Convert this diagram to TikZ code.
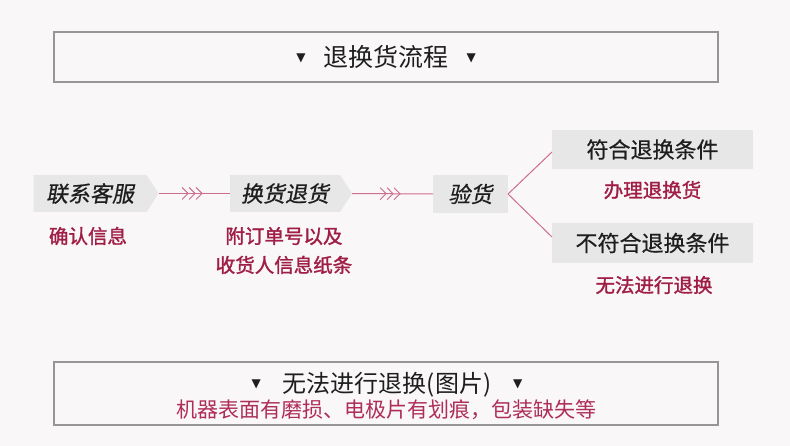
\documentclass[tikz,border=0pt]{standalone}
\usepackage{fontspec}
\setmainfont{Noto Sans CJK SC}
\newfontfamily\cjk{Noto Sans CJK SC}
\newfontfamily\cjkmed[FakeBold=0.5]{Noto Sans CJK SC}
\newfontfamily\cjksl[FakeSlant=0.18,FakeBold=0.6]{Noto Sans CJK SC}
\newfontfamily\cjkbf[FakeBold=1.5]{Noto Sans CJK SC}
\newfontfamily\dejavu{DejaVu Sans}
\usetikzlibrary{shapes.symbols,decorations.markings}
\definecolor{bg}{RGB}{249,247,248}
\definecolor{boxgray}{RGB}{231,231,231}
\definecolor{frame}{RGB}{150,150,150}
\definecolor{redtxt}{RGB}{160,30,70}
\definecolor{redline}{RGB}{205,110,140}
\definecolor{redsub}{RGB}{175,45,90}
\definecolor{ink}{RGB}{30,30,30}
\newcommand{\tri}{\raisebox{0.22em}{\dejavu\fontsize{12}{12}\selectfont ▼}}
\tikzset{
  sig/.style={signal, signal to=east, signal pointer angle=114, fill=boxgray,
    inner sep=0pt, outer sep=0pt, minimum height=37pt, text=ink,
    font=\cjksl\fontsize{22}{22}\selectfont},
  graybox/.style={rectangle, fill=boxgray, inner sep=0pt, outer sep=0pt, text=ink,
    font=\cjkmed\fontsize{22}{22}\selectfont},
  redbold/.style={text=redtxt, inner sep=0pt, align=center,
    font=\cjkbf\fontsize{19.5}{29}\selectfont},
  framebox/.style={rectangle, draw=frame, line width=1.3pt, fill=bg, inner sep=0pt,
    minimum width=664pt},
  flow/.style={draw=redline, line width=1pt,
    postaction={decorate, decoration={markings, mark=at position 0.47 with {
      \draw[redline, line width=0.9pt, line join=miter]
        (-10,6)--(-4,0)--(-10,-6) (-3,6)--(3,0)--(-3,-6) (4,6)--(10,0)--(4,-6);}}}},
  branch/.style={draw=redline, line width=1pt}
}
\begin{document}
\begin{tikzpicture}[x=1pt,y=-1pt]
\fill[bg] (0,0) rectangle (790,446);
\useasboundingbox (0,0) rectangle (790,446);

% top title box
\node[framebox, minimum height=50pt, font=\cjk\fontsize{25}{25}\selectfont, text=ink]
  (title) at (386,57) {\tri\hspace{18pt}退换货流程\hspace{18pt}\tri};

% flow nodes
\node[sig, minimum width=125pt] (n1) at (90,193.5) {联系客服\hspace{5pt}};
\node[sig, minimum width=122pt] (n2) at (285,193.5) {换货退货\hspace{5pt}};
\node[graybox, minimum width=75pt, minimum height=38pt, font=\cjksl\fontsize{22}{22}\selectfont] (n3) at (470.5,194) {验货};
\node[graybox, minimum width=201pt, minimum height=39pt] (n4) at (652.5,149.5) {符合退换条件};
\node[graybox, minimum width=201pt, minimum height=40pt] (n5) at (652.5,243) {不符合退换条件};

% red notes
\node[redbold] (t1) at (88,236) {确认信息};
\node[redbold] (t2) at (284,250.5) {附订单号以及\\收货人信息纸条};
\node[redbold] (t3) at (652.5,190) {办理退换货};
\node[redbold] (t4) at (654,285) {无法进行退换};

% connectors
\draw[flow] (n1.east) -- (n2.west);
\draw[flow] (n2.east) -- (n3.west);
\draw[branch] (n3.east) -- ([yshift=-2.5pt]n4.west);
\draw[branch] (n3.east) -- ([yshift=6pt]n5.west);

% bottom box
\node[framebox, minimum height=63pt] (bbox) at (386,393.5) {};
\node[inner sep=0pt, text=ink, font=\cjk\fontsize{24}{24}\selectfont] (btitle) at (387,385)
  {\tri\hspace{22pt}无法进行退换(图片)\hspace{22pt}\tri};
\node[inner sep=0pt, text=redsub, font=\cjk\fontsize{21}{21}\selectfont] (bsub) at (386,410)
  {机器表面有磨损、电极片有划痕，包装缺失等};
\end{tikzpicture}
\end{document}
